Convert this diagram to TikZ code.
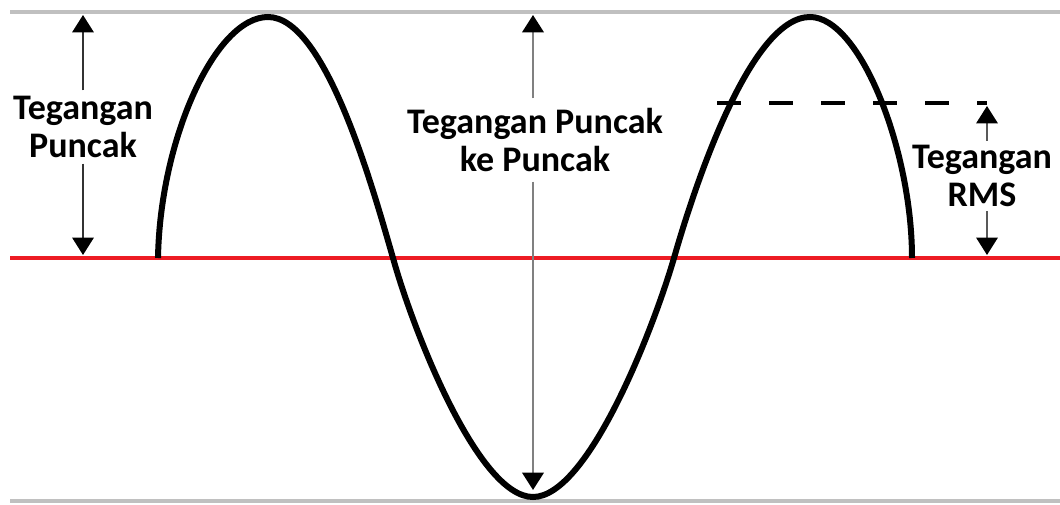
\documentclass[tikz,border=0pt]{standalone}
\usepackage{fontspec}
\setmainfont{Carlito}
\usetikzlibrary{arrows.meta}
\definecolor{guidegray}{HTML}{C0C0C0}
\definecolor{axisred}{HTML}{ED1C24}
\begin{document}
\begin{tikzpicture}[x=0.75pt,y=-0.75pt,
  lbl/.style={font=\fontsize{27}{29}\selectfont\bfseries, align=center, inner xsep=0pt, fill=white},
  tip/.style={-{Triangle[width=16pt,length=13pt,color=black]}},
  guide/.style={guidegray, line width=3pt},
  axis/.style={axisred, line width=3pt},
  wave/.style={black, line width=4.5pt},
  rmsdash/.style={black, line width=2.6pt, dash pattern=on 18pt off 21pt},
  ]
\useasboundingbox (0,0) rectangle (1060,505);
% guide lines
\coordinate (gtl) at (10,12.5); \coordinate (gtr) at (1060,12.5);
\coordinate (gbl) at (10,501);  \coordinate (gbr) at (1060,501);
\draw[guide] (gtl) -- (gtr);
\draw[guide] (gbl) -- (gbr);
% zero axis
\coordinate (al) at (10,258); \coordinate (ar) at (1060,258);
\draw[axis] (al) -- (ar);
% labels
\node[lbl, inner ysep=4pt] (lp) at (83,127) {Tegangan\\Puncak};
\node[lbl, inner ysep=7pt] (mp) at (535,140) {Tegangan Puncak\\ke Puncak};
\node[lbl, inner ysep=3pt] (rp) at (982,176) {Tegangan\\RMS};
% arrow end points
\coordinate (lt) at (83,15);  \coordinate (lb) at (83,255);
\coordinate (mt) at (533,15); \coordinate (mb) at (533,490);
\coordinate (rt) at (987,106); \coordinate (rb) at (987,255);
\draw[tip, black!80, line width=1.6pt] (lp.north) -- (lt);
\draw[tip, black!80, line width=1.6pt] (lp.south) -- (lb);
\draw[tip, black!50, line width=2pt] (mp.north -| mt) -- (mt);
\draw[tip, black!50, line width=2pt] (mp.south -| mb) -- (mb);
\draw[tip, black!65, line width=1.6pt] (rp.north -| rt) -- (rt);
\draw[tip, black!65, line width=1.6pt] (rp.south -| rb) -- (rb);
% rms dashed level
\coordinate (d1) at (717,103); \coordinate (d2) at (987,103);
\draw[rmsdash] (d1) -- (d2);
% waveform
\draw[wave] (158,258) .. controls (160,140) and (215,17) .. (268,17)
  .. controls (325,17) and (372,185) .. (393,258)
  .. controls (413,330) and (478,497) .. (533,497)
  .. controls (588,497) and (653,330) .. (674,258)
  .. controls (694,188) and (750,17) .. (810,17)
  .. controls (860,17) and (912,150) .. (912,258);
\end{tikzpicture}
\end{document}
